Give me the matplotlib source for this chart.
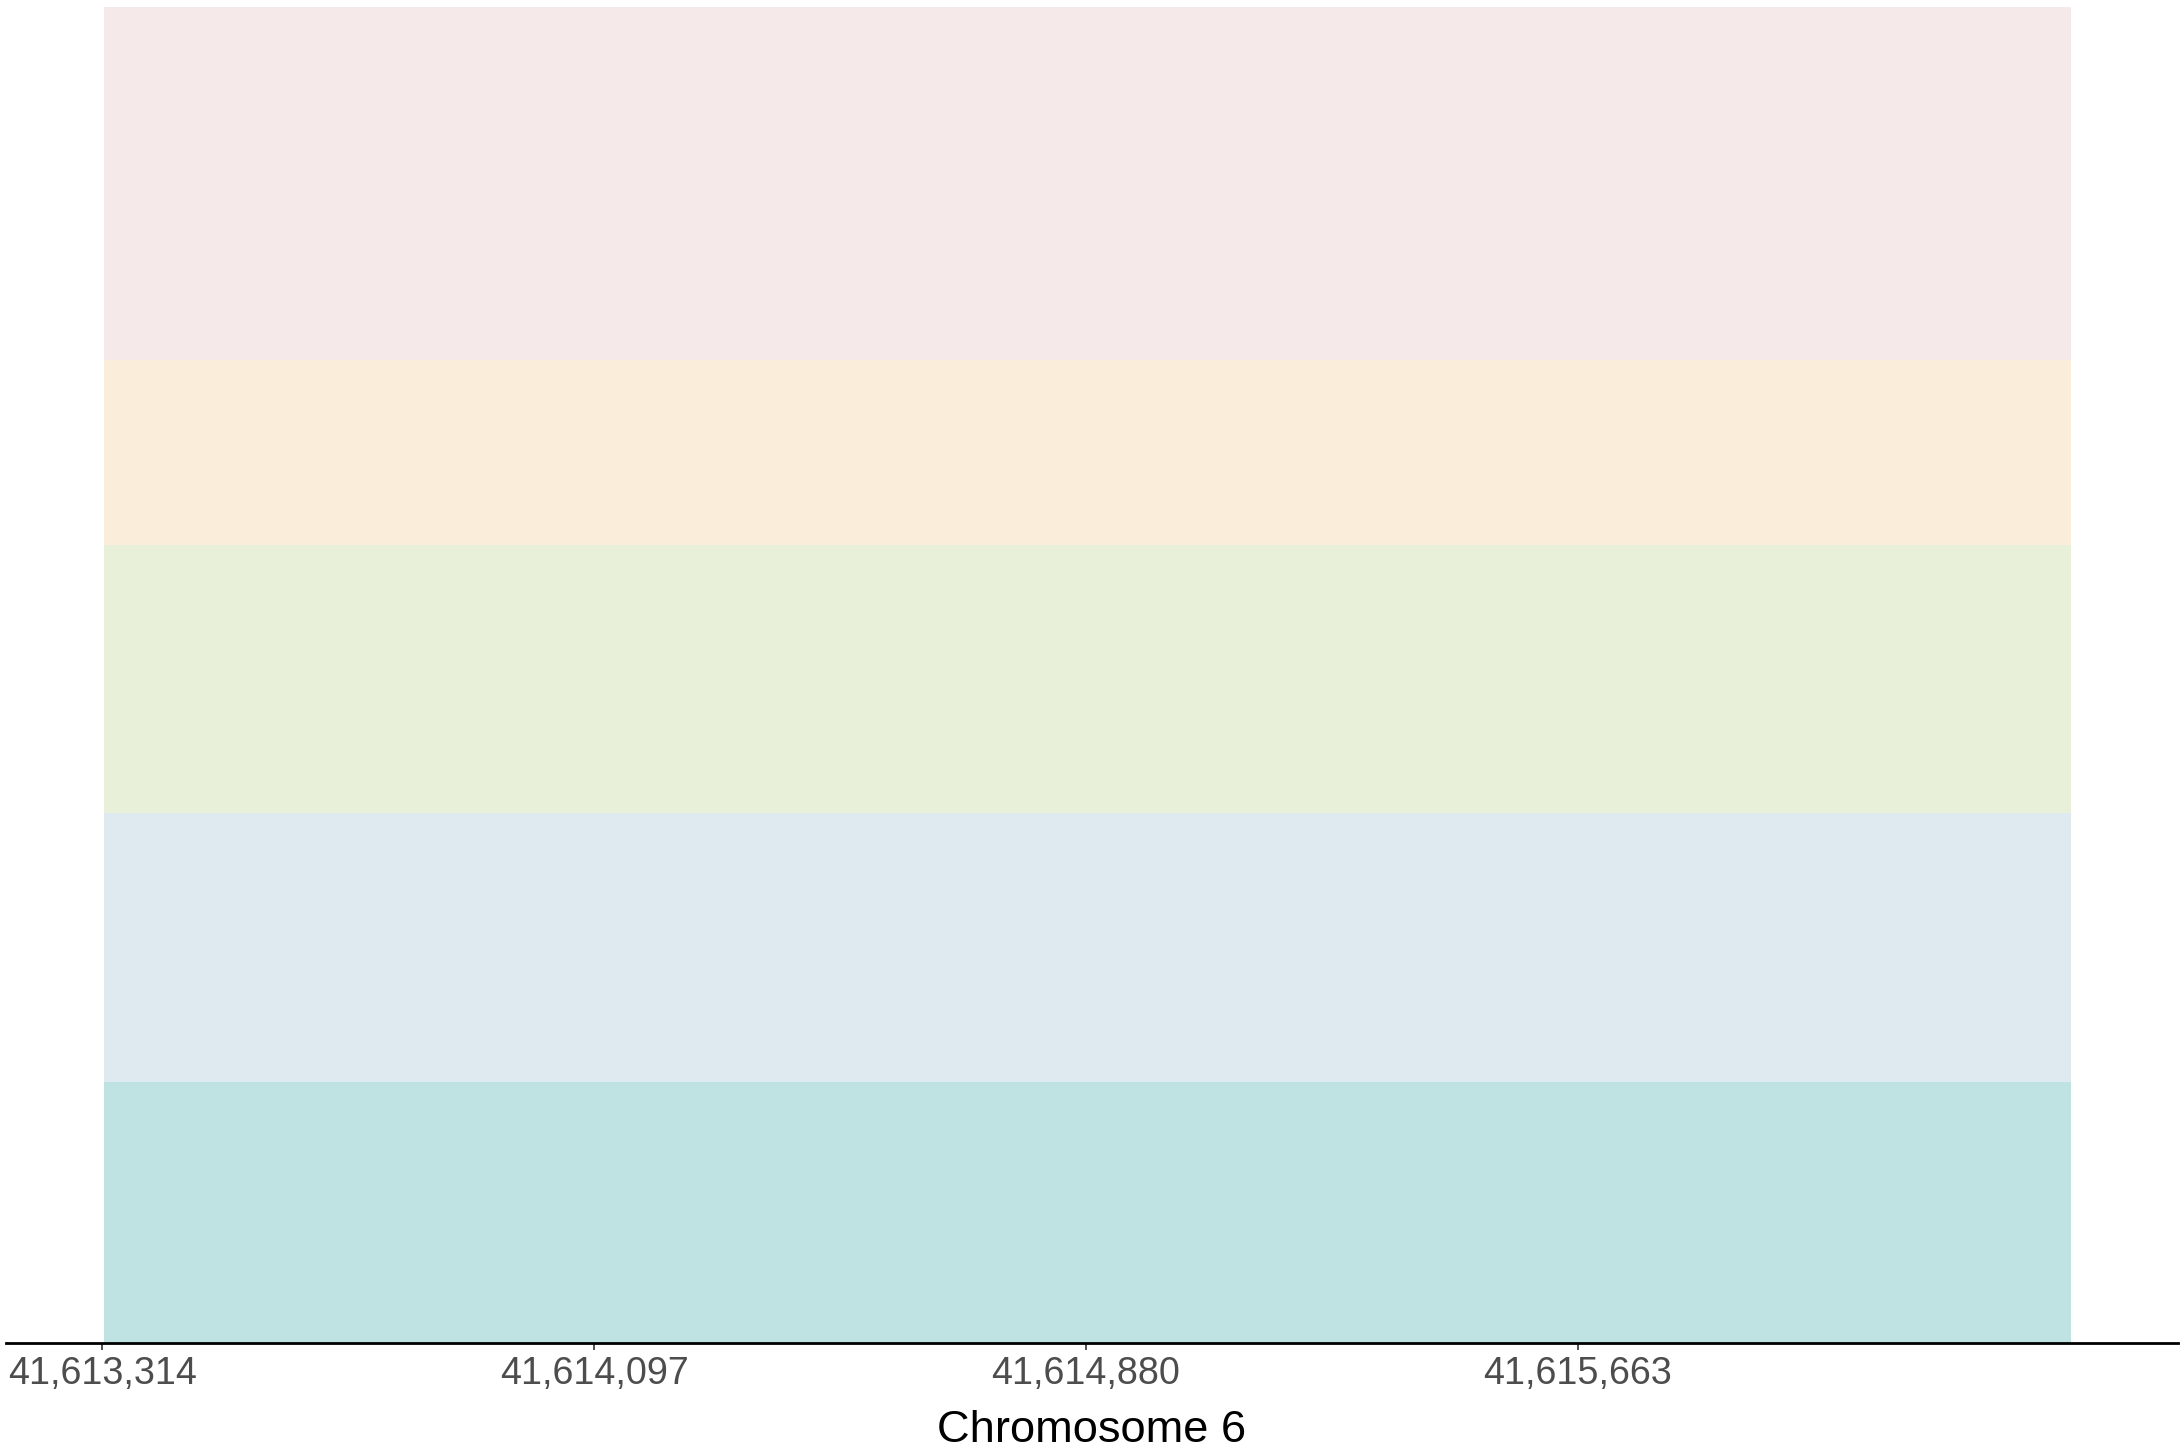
import matplotlib.pyplot as plt
from matplotlib.ticker import FuncFormatter

# region on chromosome 6
region_start = 41613317
region_end = 41616448
# track bands, bottom to top (arbitrary units)
band_bottoms = [0, 261, 530, 798, 983]
band_heights = [261, 269, 268, 185, 353]
band_colors = ['#BFE2E3', '#DFE9F0', '#E9F0DA', '#FAEDD9', '#F5E9E9']
tick_pos = [41613314, 41614097, 41614880, 41615663]
x_limits = (41613161, 41616618)

plt.rcParams['font.family'] = ['Liberation Sans', 'DejaVu Sans']

fig = plt.figure(figsize=(10.91, 7.26), dpi=200)
ax = fig.add_axes([6/2182, 109/1452, 2172/2182, 1336/1452])

for b, h, c in zip(band_bottoms, band_heights, band_colors):
    ax.bar(region_start, h, width=region_end - region_start, bottom=b,
           align='edge', color=c, linewidth=0)

ax.set_xlim(*x_limits)
ax.set_ylim(0, band_bottoms[-1] + band_heights[-1])
ax.set_xticks(tick_pos)
ax.xaxis.set_major_formatter(FuncFormatter(lambda v, p: f'{int(round(v)):,}'))
ax.tick_params(axis='x', length=2.5, width=0.6, color='#333333',
               labelcolor='#4D4D4D', labelsize=13.6, pad=2.2)
ax.set_yticks([])
for s in ['top', 'right', 'left']:
    ax.spines[s].set_visible(False)
ax.spines['bottom'].set_linewidth(1.0)
ax.spines['bottom'].set_color('black')
ax.set_xlabel('Chromosome 6', fontsize=16.3, color='black', labelpad=6.5)

fig.savefig('out.png', dpi=200)
